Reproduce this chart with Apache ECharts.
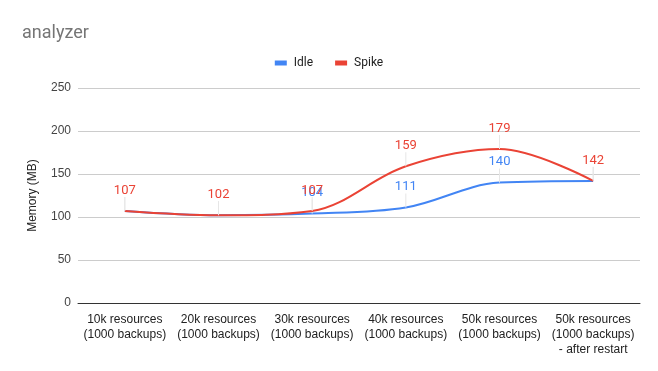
<!DOCTYPE html>
<html><head><meta charset="utf-8">
<script src="https://cdn.jsdelivr.net/npm/echarts@6/dist/echarts.min.js"></script>
<style>html,body{margin:0;padding:0;background:#fff}#c{width:658px;height:371px}</style>
</head><body><div id="c"></div>
<script>
const categories = ['10k resources\n(1000 backups)','20k resources\n(1000 backups)','30k resources\n(1000 backups)','40k resources\n(1000 backups)','50k resources\n(1000 backups)','50k resources\n(1000 backups)\n- after restart'];
const idle = [107, 102, 104, 111, 140, 142];
const spike = [107, 102, 107, 159, 179, 142];
const yTicks = {min: 0, max: 250, interval: 50};

const chart = echarts.init(document.getElementById('c'));
const font = 'Roboto, Arial, sans-serif';
const afont = 'Arial, "Liberation Sans", sans-serif';
function ser(name, data, color, z, formatter) {
  return {
    name, type: 'line', data, smooth: 0.35, symbol: 'circle', symbolSize: 0.01, showSymbol: true, z,
    lineStyle: {color, width: 2}, itemStyle: {color},
    label: {show: true, position: 'top', distance: 4, color, fontSize: 13, fontFamily: font, formatter},
    labelLayout: {dy: -10},
    labelLine: {show: true, lineStyle: {color: '#e6e6e6', width: 1}},
    emphasis: {disabled: true}
  };
}
chart.setOption({
  animation: false,
  title: {text: 'analyzer', left: 17, top: 19, textStyle: {fontSize: 18, fontWeight: 'normal', color: '#757575', fontFamily: font}},
  legend: {top: 52, left: 'center', itemWidth: 12, itemHeight: 5, itemGap: 22, icon: 'rect',
    textStyle: {fontSize: 12, color: '#222', fontFamily: font, padding: [0, 0, 0, 2]}, data: ['Idle', 'Spike']},
  grid: {left: 78, right: 18, top: 88, bottom: 68},
  xAxis: {type: 'category', data: categories, boundaryGap: true,
    axisLine: {lineStyle: {color: '#333'}}, axisTick: {show: false},
    axisLabel: {color: '#222', fontSize: 12, fontFamily: afont, lineHeight: 15, margin: 9, interval: 0}},
  yAxis: {type: 'value', min: yTicks.min, max: yTicks.max, interval: yTicks.interval,
    name: 'Memory (MB)', nameLocation: 'middle', nameGap: 39, nameRotate: 90,
    nameTextStyle: {color: '#222', fontSize: 12, fontFamily: afont},
    axisLine: {show: false}, axisTick: {show: false},
    axisLabel: {color: '#444', fontSize: 12, fontFamily: afont, margin: 7},
    splitLine: {lineStyle: {color: '#cccccc'}}},
  series: [
    ser('Idle', idle, '#4285F4', 2, p => (idle[p.dataIndex] === spike[p.dataIndex] ? '' : String(p.value))),
    ser('Spike', spike, '#EA4335', 3, p => String(p.value))
  ]
});
</script></body></html>
